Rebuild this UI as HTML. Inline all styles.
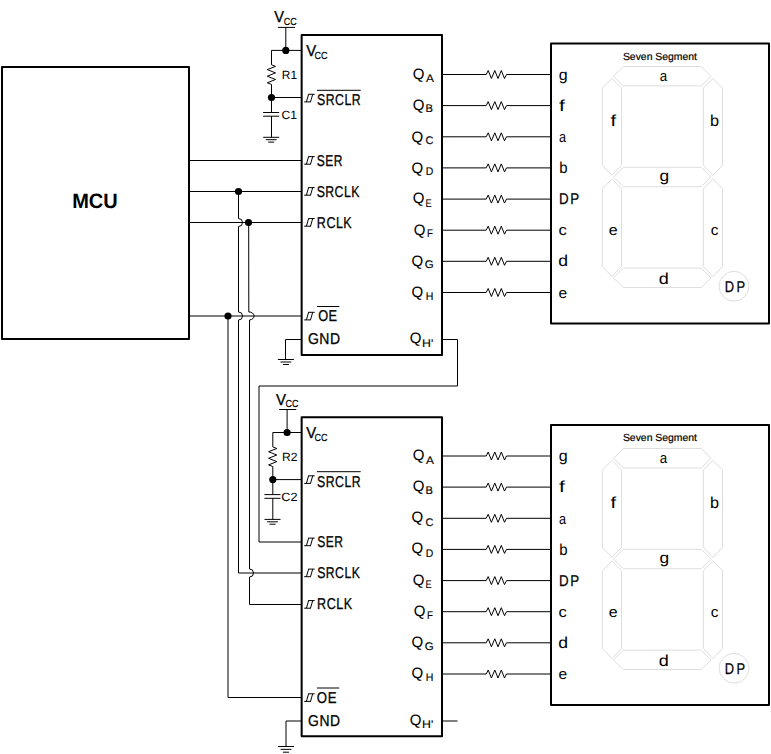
<!DOCTYPE html>
<html lang="en"><head><meta charset="utf-8"><title>Shift register cascade driving seven segment displays</title>
<style>
html,body{margin:0;padding:0;background:#fff}
body{width:771px;height:754px;overflow:hidden}
svg{display:block;font-family:"Liberation Sans",sans-serif;text-rendering:geometricPrecision}
.box{fill:#fff;stroke:#000;stroke-width:2;stroke-linejoin:round}
.w{fill:none;stroke:#000;stroke-width:1;stroke-linejoin:round}
.ic{fill:none;stroke:#000;stroke-width:1}
.seg{fill:none;stroke:#dedede;stroke-width:1}
</style></head><body>
<svg width="771" height="754" viewBox="0 0 771 754">
<rect class="box" x="2" y="67" width="187" height="272"/>
<rect class="box" x="301.65" y="35" width="140.35" height="320"/>
<rect class="box" x="301.65" y="417.3" width="140.35" height="319.0"/>
<rect class="box" x="551" y="43.5" width="218" height="280"/>
<rect class="box" x="551" y="425.0" width="218" height="280"/>
<path class="w" d="M277.9 27.4L295 27.4"/>
<path class="w" d="M285.8 27.4L285.8 50.4"/>
<path class="w" d="M271.5 50.4L301 50.4"/>
<path class="w" d="M271.5 50.4L271.5 64.8L271.5 64.8L275.5 66.4L267.3 69.6L275.5 72.9L267.3 76.2L275.5 79.5L267.3 82.8L271.5 84.4L271.5 112.5"/>
<path class="w" d="M271.5 97.5L301 97.5"/>
<path class="w" d="M263.1 112.5L279.2 112.5"/>
<path class="w" d="M263.1 116.2L279.2 116.2"/>
<path class="w" d="M271.5 116.2L271.5 137.3"/>
<path class="w" d="M263.2 137.3H279.2M265.8 139.7H276.6M268.2 142.1H274.2"/>
<path class="w" d="M279.2 409.5L296.3 409.5"/>
<path class="w" d="M287.1 409.5L287.1 432.5"/>
<path class="w" d="M272.8 432.5L301 432.5"/>
<path class="w" d="M272.8 432.5L272.8 446.9L272.8 446.9L276.8 448.5L268.6 451.7L276.8 455.0L268.6 458.3L276.8 461.6L268.6 464.9L272.8 466.5L272.8 494.6"/>
<path class="w" d="M272.8 479.6L301 479.6"/>
<path class="w" d="M264.4 494.6L280.5 494.6"/>
<path class="w" d="M264.4 498.3L280.5 498.3"/>
<path class="w" d="M272.8 498.3L272.8 519.4"/>
<path class="w" d="M264.5 519.4H280.5M267.1 521.8H277.9M269.5 524.2H275.5"/>
<path class="ic" d="M304.2 101.9H310.9M306.4 101.9L308.6 94.3M310.5 101.9L312.7 94.3M308.2 94.3H314.7"/>
<path class="ic" d="M316.9 90.3L360.7 90.3"/>
<path class="ic" d="M304.2 164.2H310.9M306.4 164.2L308.6 156.6M310.5 164.2L312.7 156.6M308.2 156.6H314.7"/>
<path class="ic" d="M304.2 195.2H310.9M306.4 195.2L308.6 187.6M310.5 195.2L312.7 187.6M308.2 187.6H314.7"/>
<path class="ic" d="M304.2 226.2H310.9M306.4 226.2L308.6 218.6M310.5 226.2L312.7 218.6M308.2 218.6H314.7"/>
<path class="ic" d="M304.2 319.9H310.9M306.4 319.9L308.6 312.3M310.5 319.9L312.7 312.3M308.2 312.3H314.7"/>
<path class="ic" d="M317.1 306.5L339.3 306.5"/>
<path class="ic" d="M304.2 483.4H310.9M306.4 483.4L308.6 475.8M310.5 483.4L312.7 475.8M308.2 475.8H314.7"/>
<path class="ic" d="M316.9 471.7L360.7 471.7"/>
<path class="ic" d="M304.2 545.7H310.9M306.4 545.7L308.6 538.1M310.5 545.7L312.7 538.1M308.2 538.1H314.7"/>
<path class="ic" d="M304.2 576.7H310.9M306.4 576.7L308.6 569.1M310.5 576.7L312.7 569.1M308.2 569.1H314.7"/>
<path class="ic" d="M304.2 608.2H310.9M306.4 608.2L308.6 600.6M310.5 608.2L312.7 600.6M308.2 600.6H314.7"/>
<path class="ic" d="M304.2 701.4H310.9M306.4 701.4L308.6 693.8M310.5 701.4L312.7 693.8M308.2 693.8H314.7"/>
<path class="ic" d="M316.9 688.0L339.2 688.0"/>
<path class="w" d="M443 74.5L486.2 74.5L486.2 74.5L488.2 70.5L491.4 78.5L494.8 70.5L498.0 78.5L501.3 70.5L504.5 78.5L506.5 74.5L550 74.5"/>
<path class="w" d="M443 105.6L486.2 105.6L486.2 105.6L488.2 101.6L491.4 109.6L494.8 101.6L498.0 109.6L501.3 101.6L504.5 109.6L506.5 105.6L550 105.6"/>
<path class="w" d="M443 136.8L486.2 136.8L486.2 136.8L488.2 132.8L491.4 140.8L494.8 132.8L498.0 140.8L501.3 132.8L504.5 140.8L506.5 136.8L550 136.8"/>
<path class="w" d="M443 167.9L486.2 167.9L486.2 167.9L488.2 163.9L491.4 171.9L494.8 163.9L498.0 171.9L501.3 163.9L504.5 171.9L506.5 167.9L550 167.9"/>
<path class="w" d="M443 199.1L486.2 199.1L486.2 199.1L488.2 195.1L491.4 203.1L494.8 195.1L498.0 203.1L501.3 195.1L504.5 203.1L506.5 199.1L550 199.1"/>
<path class="w" d="M443 230.2L486.2 230.2L486.2 230.2L488.2 226.2L491.4 234.2L494.8 226.2L498.0 234.2L501.3 226.2L504.5 234.2L506.5 230.2L550 230.2"/>
<path class="w" d="M443 261.3L486.2 261.3L486.2 261.3L488.2 257.3L491.4 265.3L494.8 257.3L498.0 265.3L501.3 257.3L504.5 265.3L506.5 261.3L550 261.3"/>
<path class="w" d="M443 292.5L486.2 292.5L486.2 292.5L488.2 288.5L491.4 296.5L494.8 288.5L498.0 296.5L501.3 288.5L504.5 296.5L506.5 292.5L550 292.5"/>
<path class="w" d="M443 456.0L486.2 456.0L486.2 456.0L488.2 452.0L491.4 460.0L494.8 452.0L498.0 460.0L501.3 452.0L504.5 460.0L506.5 456.0L550 456.0"/>
<path class="w" d="M443 487.1L486.2 487.1L486.2 487.1L488.2 483.1L491.4 491.1L494.8 483.1L498.0 491.1L501.3 483.1L504.5 491.1L506.5 487.1L550 487.1"/>
<path class="w" d="M443 518.3L486.2 518.3L486.2 518.3L488.2 514.3L491.4 522.3L494.8 514.3L498.0 522.3L501.3 514.3L504.5 522.3L506.5 518.3L550 518.3"/>
<path class="w" d="M443 549.4L486.2 549.4L486.2 549.4L488.2 545.4L491.4 553.4L494.8 545.4L498.0 553.4L501.3 545.4L504.5 553.4L506.5 549.4L550 549.4"/>
<path class="w" d="M443 580.6L486.2 580.6L486.2 580.6L488.2 576.6L491.4 584.6L494.8 576.6L498.0 584.6L501.3 576.6L504.5 584.6L506.5 580.6L550 580.6"/>
<path class="w" d="M443 611.7L486.2 611.7L486.2 611.7L488.2 607.7L491.4 615.7L494.8 607.7L498.0 615.7L501.3 607.7L504.5 615.7L506.5 611.7L550 611.7"/>
<path class="w" d="M443 642.8L486.2 642.8L486.2 642.8L488.2 638.8L491.4 646.8L494.8 638.8L498.0 646.8L501.3 638.8L504.5 646.8L506.5 642.8L550 642.8"/>
<path class="w" d="M443 674.0L486.2 674.0L486.2 674.0L488.2 670.0L491.4 678.0L494.8 670.0L498.0 678.0L501.3 670.0L504.5 678.0L506.5 674.0L550 674.0"/>
<path class="seg" d="M613.5 76.4L623.3 66.5H701.2L711 76.4L701.2 85.9H623.3Z"/>
<path class="seg" d="M613.5 177.2L623.3 167.3H701.2L711 177.2L701.2 186.7H623.3Z"/>
<path class="seg" d="M613.5 278.0L623.3 268.1H701.2L711 278.0L701.2 287.5H623.3Z"/>
<path class="seg" d="M611.9 78.4L602.3 88.2V165.4L611.9 175.3L621.5 165.4V88.2Z"/>
<path class="seg" d="M712.9 78.4L703.3 88.2V165.4L712.9 175.3L722.5 165.4V88.2Z"/>
<path class="seg" d="M611.9 179.0L602.3 188.8V266.5L611.9 276.4L621.5 266.5V188.8Z"/>
<path class="seg" d="M712.9 179.0L703.3 188.8V266.5L712.9 276.4L722.5 266.5V188.8Z"/>
<circle class="seg" cx="734" cy="286.2" r="14.9"/>
<path class="seg" d="M613.5 458.4L623.3 448.5H701.2L711 458.4L701.2 467.9H623.3Z"/>
<path class="seg" d="M613.5 559.2L623.3 549.3H701.2L711 559.2L701.2 568.7H623.3Z"/>
<path class="seg" d="M613.5 660.0L623.3 650.1H701.2L711 660.0L701.2 669.5H623.3Z"/>
<path class="seg" d="M611.9 460.4L602.3 470.2V547.4L611.9 557.3L621.5 547.4V470.2Z"/>
<path class="seg" d="M712.9 460.4L703.3 470.2V547.4L712.9 557.3L722.5 547.4V470.2Z"/>
<path class="seg" d="M611.9 561.0L602.3 570.8V648.5L611.9 658.4L621.5 648.5V570.8Z"/>
<path class="seg" d="M712.9 561.0L703.3 570.8V648.5L712.9 658.4L722.5 648.5V570.8Z"/>
<circle class="seg" cx="734" cy="668.2" r="14.9"/>
<path class="w" d="M190 160.5L301 160.5"/>
<path class="w" d="M190 191.5L301 191.5"/>
<path class="w" d="M190 222.5L301 222.5"/>
<path class="w" d="M190 316L301 316"/>
<path class="w" d="M238.5 191.5L238.5 218.5A4 4 0 0 1 238.5 226.5L238.5 312A4 4 0 0 1 238.5 320L238.5 573L301 573"/>
<path class="w" d="M248.7 222.5L248.8 312A4.9 4 0 0 1 249.5 320L249.5 569A4 4 0 0 1 249.5 577L249.5 604.5L301 604.5"/>
<path class="w" d="M228 316L228 697.5L301 697.5"/>
<path class="w" d="M443 339.5L457.5 339.5L457.5 386L259 386L259 542L301 542"/>
<path class="w" d="M443 721L457.5 721"/>
<path class="w" d="M301 339.5L285.5 339.5L285.5 359.5"/>
<path class="w" d="M277.9 359.5H293.9M280.5 362.0H291.3M282.9 364.5H288.9"/>
<path class="w" d="M301 721L286 721L286 746.5"/>
<path class="w" d="M278 746.5H294M280.6 749.35H291.4M283 752.2H289"/>
<circle cx="285.8" cy="50.4" r="3.6" fill="#000"/>
<circle cx="271.5" cy="97.5" r="3.6" fill="#000"/>
<circle cx="287.1" cy="432.5" r="3.6" fill="#000"/>
<circle cx="272.8" cy="479.6" r="3.6" fill="#000"/>
<circle cx="238.5" cy="191.5" r="3.6" fill="#000"/>
<circle cx="248.5" cy="222.5" r="3.6" fill="#000"/>
<circle cx="228" cy="316" r="3.6" fill="#000"/>
<text transform="matrix(0.9618 0 0 1 72.16 208.20)" font-size="20.8" font-weight="700" fill="#000">MCU</text>
<text transform="matrix(0.9349 0 0 1 274.14 21.90)" font-size="15.6" stroke="#000" stroke-width="0.3" fill="#000">V</text>
<text transform="matrix(0.8824 0 0 1 283.64 25.00)" font-size="10.2" stroke="#000" stroke-width="0.15" fill="#000">CC</text>
<text transform="matrix(0.9877 0 0 1 281.83 78.90)" font-size="12" fill="#000">R1</text>
<text transform="matrix(1.0039 0 0 1 281.59 118.80)" font-size="12" fill="#000">C1</text>
<text transform="matrix(0.9593 0 0 1 275.98 404.90)" font-size="15.6" stroke="#000" stroke-width="0.3" fill="#000">V</text>
<text transform="matrix(0.8824 0 0 1 285.44 407.00)" font-size="10.2" stroke="#000" stroke-width="0.15" fill="#000">CC</text>
<text transform="matrix(1.0108 0 0 1 281.91 460.60)" font-size="12" fill="#000">R2</text>
<text transform="matrix(1.0547 0 0 1 281.26 500.60)" font-size="12" fill="#000">C2</text>
<text transform="matrix(0.9544 0 0 1 306.13 55.80)" font-size="15.6" stroke="#000" stroke-width="0.3" fill="#000">V</text>
<text transform="matrix(0.8824 0 0 1 314.44 59.00)" font-size="10.2" stroke="#000" stroke-width="0.15" fill="#000">CC</text>
<text transform="matrix(0.7874 0 0 1 317.04 104.90)" font-size="15.6" letter-spacing="0.6" stroke="#000" stroke-width="0.3" fill="#000">SRCLR</text>
<text transform="matrix(0.7725 0 0 1 316.65 165.60)" font-size="15.6" letter-spacing="0.6" stroke="#000" stroke-width="0.3" fill="#000">SER</text>
<text transform="matrix(0.7864 0 0 1 316.64 196.80)" font-size="15.6" letter-spacing="0.6" stroke="#000" stroke-width="0.3" fill="#000">SRCLK</text>
<text transform="matrix(0.8032 0 0 1 316.87 227.80)" font-size="15.6" letter-spacing="0.6" stroke="#000" stroke-width="0.3" fill="#000">RCLK</text>
<text transform="matrix(0.8191 0 0 1 318.19 320.75)" font-size="15.6" letter-spacing="0.6" stroke="#000" stroke-width="0.3" fill="#000">OE</text>
<text transform="matrix(0.8956 0 0 1 307.95 343.70)" font-size="15.6" letter-spacing="0.6" stroke="#000" stroke-width="0.3" fill="#000">GND</text>
<text transform="matrix(0.9544 0 0 1 306.13 437.80)" font-size="15.6" stroke="#000" stroke-width="0.3" fill="#000">V</text>
<text transform="matrix(0.8824 0 0 1 314.44 441.00)" font-size="10.2" stroke="#000" stroke-width="0.15" fill="#000">CC</text>
<text transform="matrix(0.7874 0 0 1 317.04 486.70)" font-size="15.6" letter-spacing="0.6" stroke="#000" stroke-width="0.3" fill="#000">SRCLR</text>
<text transform="matrix(0.7725 0 0 1 317.15 546.90)" font-size="15.6" letter-spacing="0.6" stroke="#000" stroke-width="0.3" fill="#000">SER</text>
<text transform="matrix(0.7845 0 0 1 317.14 578.00)" font-size="15.6" letter-spacing="0.6" stroke="#000" stroke-width="0.3" fill="#000">SRCLK</text>
<text transform="matrix(0.8056 0 0 1 317.07 609.20)" font-size="15.6" letter-spacing="0.6" stroke="#000" stroke-width="0.3" fill="#000">RCLK</text>
<text transform="matrix(0.8468 0 0 1 316.87 703.00)" font-size="15.6" letter-spacing="0.6" stroke="#000" stroke-width="0.3" fill="#000">OE</text>
<text transform="matrix(0.8912 0 0 1 308.10 726.00)" font-size="15.6" letter-spacing="0.6" stroke="#000" stroke-width="0.3" fill="#000">GND</text>
<text transform="matrix(1.0000 0 0 1 412.69 79.30)" font-size="15" stroke="#000" stroke-width="0.08" fill="#000">Q</text>
<text transform="matrix(1.0831 0 0 1 426.08 81.65)" font-size="11" stroke="#000" stroke-width="0.15" fill="#000">A</text>
<text transform="matrix(1.0263 0 0 1 558.63 79.90)" font-size="15.6" fill="#000">g</text>
<text transform="matrix(1.0000 0 0 1 412.69 110.40)" font-size="15" stroke="#000" stroke-width="0.08" fill="#000">Q</text>
<text transform="matrix(1.0078 0 0 1 425.59 112.40)" font-size="11" stroke="#000" stroke-width="0.15" fill="#000">B</text>
<text transform="matrix(1.3201 0 0 1 559.00 110.80)" font-size="16.0" fill="#000">f</text>
<text transform="matrix(1.0000 0 0 1 411.59 141.60)" font-size="15" stroke="#000" stroke-width="0.08" fill="#000">Q</text>
<text transform="matrix(0.9905 0 0 1 425.55 144.20)" font-size="11" stroke="#000" stroke-width="0.15" fill="#000">C</text>
<text transform="matrix(0.8436 0 0 1 558.96 142.00)" font-size="15.0" fill="#000">a</text>
<text transform="matrix(1.0000 0 0 1 411.59 172.50)" font-size="15" stroke="#000" stroke-width="0.08" fill="#000">Q</text>
<text transform="matrix(0.9516 0 0 1 425.74 174.70)" font-size="11" stroke="#000" stroke-width="0.15" fill="#000">D</text>
<text transform="matrix(0.9312 0 0 1 559.14 172.50)" font-size="16.0" fill="#000">b</text>
<text transform="matrix(1.0000 0 0 1 412.64 203.30)" font-size="15" stroke="#000" stroke-width="0.08" fill="#000">Q</text>
<text transform="matrix(0.8303 0 0 1 425.55 206.70)" font-size="11" stroke="#000" stroke-width="0.15" fill="#000">E</text>
<text transform="matrix(0.8554 0 0 1 558.96 204.00)" font-size="15.6" letter-spacing="2.0" stroke="#000" stroke-width="0.25" fill="#000">DP</text>
<text transform="matrix(1.0000 0 0 1 413.79 234.50)" font-size="15" stroke="#000" stroke-width="0.08" fill="#000">Q</text>
<text transform="matrix(0.8742 0 0 1 426.91 237.40)" font-size="11" stroke="#000" stroke-width="0.15" fill="#000">F</text>
<text transform="matrix(1.0978 0 0 1 558.40 235.00)" font-size="15.0" fill="#000">c</text>
<text transform="matrix(1.0000 0 0 1 411.59 266.05)" font-size="15" stroke="#000" stroke-width="0.08" fill="#000">Q</text>
<text transform="matrix(1.0444 0 0 1 424.72 268.00)" font-size="11" stroke="#000" stroke-width="0.15" fill="#000">G</text>
<text transform="matrix(1.0979 0 0 1 558.36 266.40)" font-size="16.0" fill="#000">d</text>
<text transform="matrix(1.0000 0 0 1 411.59 297.30)" font-size="15" stroke="#000" stroke-width="0.08" fill="#000">Q</text>
<text transform="matrix(0.9602 0 0 1 425.63 299.50)" font-size="11" stroke="#000" stroke-width="0.15" fill="#000">H</text>
<text transform="matrix(1.0371 0 0 1 558.44 297.70)" font-size="15.0" fill="#000">e</text>
<text transform="matrix(1.0000 0 0 1 409.69 342.90)" font-size="15" stroke="#000" stroke-width="0.08" fill="#000">Q</text>
<text transform="matrix(1.1178 0 0 1 422.09 346.90)" font-size="11" stroke="#000" stroke-width="0.15" fill="#000">H'</text>
<text transform="matrix(1.0000 0 0 1 412.69 459.70)" font-size="15" stroke="#000" stroke-width="0.08" fill="#000">Q</text>
<text transform="matrix(1.0831 0 0 1 426.08 463.65)" font-size="11" stroke="#000" stroke-width="0.15" fill="#000">A</text>
<text transform="matrix(1.0263 0 0 1 558.63 461.40)" font-size="15.6" fill="#000">g</text>
<text transform="matrix(1.0000 0 0 1 412.69 490.50)" font-size="15" stroke="#000" stroke-width="0.08" fill="#000">Q</text>
<text transform="matrix(1.0078 0 0 1 425.59 494.40)" font-size="11" stroke="#000" stroke-width="0.15" fill="#000">B</text>
<text transform="matrix(1.3201 0 0 1 559.00 492.30)" font-size="16.0" fill="#000">f</text>
<text transform="matrix(1.0000 0 0 1 411.59 521.90)" font-size="15" stroke="#000" stroke-width="0.08" fill="#000">Q</text>
<text transform="matrix(0.9905 0 0 1 425.55 526.20)" font-size="11" stroke="#000" stroke-width="0.15" fill="#000">C</text>
<text transform="matrix(0.8436 0 0 1 558.96 523.50)" font-size="15.0" fill="#000">a</text>
<text transform="matrix(1.0000 0 0 1 411.59 552.80)" font-size="15" stroke="#000" stroke-width="0.08" fill="#000">Q</text>
<text transform="matrix(0.9516 0 0 1 425.74 556.70)" font-size="11" stroke="#000" stroke-width="0.15" fill="#000">D</text>
<text transform="matrix(0.9312 0 0 1 559.14 554.80)" font-size="16.0" fill="#000">b</text>
<text transform="matrix(1.0000 0 0 1 412.64 584.70)" font-size="15" stroke="#000" stroke-width="0.08" fill="#000">Q</text>
<text transform="matrix(0.8303 0 0 1 425.55 587.90)" font-size="11" stroke="#000" stroke-width="0.15" fill="#000">E</text>
<text transform="matrix(0.8554 0 0 1 558.96 585.50)" font-size="15.6" letter-spacing="2.0" stroke="#000" stroke-width="0.25" fill="#000">DP</text>
<text transform="matrix(1.0000 0 0 1 413.79 615.50)" font-size="15" stroke="#000" stroke-width="0.08" fill="#000">Q</text>
<text transform="matrix(0.8742 0 0 1 426.91 618.90)" font-size="11" stroke="#000" stroke-width="0.15" fill="#000">F</text>
<text transform="matrix(1.0978 0 0 1 558.40 616.50)" font-size="15.0" fill="#000">c</text>
<text transform="matrix(1.0000 0 0 1 411.59 646.75)" font-size="15" stroke="#000" stroke-width="0.08" fill="#000">Q</text>
<text transform="matrix(1.0444 0 0 1 424.72 649.80)" font-size="11" stroke="#000" stroke-width="0.15" fill="#000">G</text>
<text transform="matrix(1.0979 0 0 1 558.36 647.90)" font-size="16.0" fill="#000">d</text>
<text transform="matrix(1.0000 0 0 1 411.59 678.00)" font-size="15" stroke="#000" stroke-width="0.08" fill="#000">Q</text>
<text transform="matrix(0.9602 0 0 1 425.63 681.00)" font-size="11" stroke="#000" stroke-width="0.15" fill="#000">H</text>
<text transform="matrix(1.0371 0 0 1 558.44 679.20)" font-size="15.0" fill="#000">e</text>
<text transform="matrix(1.0000 0 0 1 409.69 724.80)" font-size="15" stroke="#000" stroke-width="0.08" fill="#000">Q</text>
<text transform="matrix(1.1178 0 0 1 422.09 728.40)" font-size="11" stroke="#000" stroke-width="0.15" fill="#000">H'</text>
<text transform="matrix(1.0020 0 0 1 622.93 59.90)" font-size="10.4" stroke="#000" stroke-width="0.2" fill="#000">Seven Segment</text>
<text transform="matrix(0.8825 0 0 1 659.84 80.90)" font-size="15.0" fill="#000">a</text>
<text transform="matrix(1.1118 0 0 1 659.47 181.00)" font-size="15.6" fill="#000">g</text>
<text transform="matrix(1.1257 0 0 1 658.74 283.60)" font-size="16.0" fill="#000">d</text>
<text transform="matrix(1.2729 0 0 1 610.61 125.50)" font-size="16.0" fill="#000">f</text>
<text transform="matrix(1.0145 0 0 1 709.95 125.50)" font-size="16.0" fill="#000">b</text>
<text transform="matrix(1.0656 0 0 1 608.72 235.00)" font-size="15.0" fill="#000">e</text>
<text transform="matrix(1.0205 0 0 1 710.65 235.00)" font-size="15.0" fill="#000">c</text>
<text transform="matrix(0.8271 0 0 1 724.84 291.80)" font-size="15.6" letter-spacing="2.8" stroke="#000" stroke-width="0.25" fill="#000">DP</text>
<text transform="matrix(1.0020 0 0 1 622.93 441.00)" font-size="10.4" stroke="#000" stroke-width="0.2" fill="#000">Seven Segment</text>
<text transform="matrix(0.8825 0 0 1 659.84 462.90)" font-size="15.0" fill="#000">a</text>
<text transform="matrix(1.1118 0 0 1 659.47 563.00)" font-size="15.6" fill="#000">g</text>
<text transform="matrix(1.1257 0 0 1 658.74 665.60)" font-size="16.0" fill="#000">d</text>
<text transform="matrix(1.2729 0 0 1 610.61 507.50)" font-size="16.0" fill="#000">f</text>
<text transform="matrix(1.0145 0 0 1 709.95 507.50)" font-size="16.0" fill="#000">b</text>
<text transform="matrix(1.0656 0 0 1 608.72 617.00)" font-size="15.0" fill="#000">e</text>
<text transform="matrix(1.0205 0 0 1 710.65 617.00)" font-size="15.0" fill="#000">c</text>
<text transform="matrix(0.8271 0 0 1 724.84 673.80)" font-size="15.6" letter-spacing="2.8" stroke="#000" stroke-width="0.25" fill="#000">DP</text>
</svg>
</body></html>
